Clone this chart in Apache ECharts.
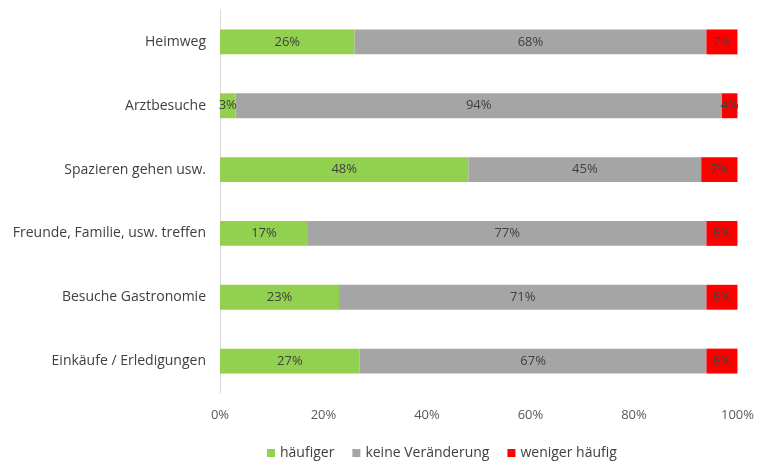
<!DOCTYPE html>
<html>
<head>
<meta charset="UTF-8" />
<title>Mobilität</title>
<style>
  html, body { margin: 0; padding: 0; background: #fff; }
  #chart { width: 757px; height: 466px; }
</style>
<script src="https://cdn.jsdelivr.net/npm/echarts@6/dist/echarts.min.js"></script>
</head>
<body>
<div id="chart"></div>
<script>
const categories = [
  "Heimweg",
  "Arztbesuche",
  "Spazieren gehen usw.",
  "Freunde, Familie, usw. treffen",
  "Besuche Gastronomie",
  "Einkäufe / Erledigungen"
];
const haeufiger = [26, 3, 48, 17, 23, 27];
const keineVeraenderung = [68, 94, 45, 77, 71, 67];
const wenigerHaeufig = [7, 4, 7, 6, 6, 6];

const font = "Open Sans";
const label = {
  show: true,
  position: "inside",
  color: "#404040",
  fontFamily: font,
  fontSize: 13,
  formatter: (p) => p.value + "%"
};

const chart = echarts.init(document.getElementById("chart"));
chart.setOption({
  animation: false,
  grid: { left: 220, right: 19, top: 10, bottom: 73 },
  legend: {
    left: 267,
    top: 446,
    padding: 0,
    itemWidth: 8,
    itemHeight: 8,
    itemGap: 18,
    icon: "rect",
    textStyle: { color: "#404040", fontFamily: font, fontSize: 14 },
    data: ["häufiger", "keine Veränderung", "weniger häufig"]
  },
  xAxis: {
    type: "value",
    min: 0,
    max: 100,
    interval: 20,
    axisLine: { show: false },
    axisTick: { show: false },
    splitLine: { show: false },
    axisLabel: {
      color: "#595959",
      fontFamily: font,
      fontSize: 13,
      margin: 16,
      formatter: (v) => v + "%"
    }
  },
  yAxis: {
    type: "category",
    inverse: true,
    data: categories,
    axisLine: { show: true, lineStyle: { color: "#d9d9d9" } },
    axisTick: { show: false },
    axisLabel: { color: "#404040", fontFamily: font, fontSize: 14, margin: 14 }
  },
  series: [
    { name: "häufiger", type: "bar", stack: "a", barWidth: "39%", data: haeufiger,
      itemStyle: { color: "#92d050" }, label },
    { name: "keine Veränderung", type: "bar", stack: "a", barWidth: "39%", data: keineVeraenderung,
      itemStyle: { color: "#a5a5a5" }, label },
    { name: "weniger häufig", type: "bar", stack: "a", barWidth: "39%", data: wenigerHaeufig,
      itemStyle: { color: "#ff0000" }, label }
  ]
});
</script>
</body>
</html>
